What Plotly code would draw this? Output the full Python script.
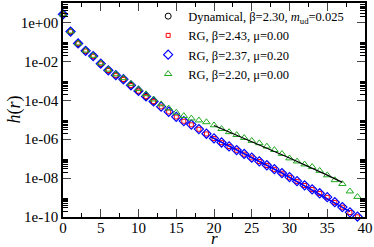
import plotly.graph_objects as go

# ---- data (h values as log10) ----
r_all = list(range(0, 40))

log_blue = [0.42, -0.47, -1.08, -1.46, -1.73, -2.12, -2.46, -2.71, -2.92, -3.23,
            -3.52, -3.80, -4.06, -4.33, -4.59, -4.85, -5.07, -5.25, -5.48, -5.72,
            -5.96, -6.17, -6.37, -6.56, -6.76, -6.95, -7.14, -7.34, -7.54, -7.74,
            -7.95, -8.16, -8.37, -8.58, -8.78, -8.98, -9.24, -9.49, -9.76, -9.98]

log_red = [0.42, -0.47, -1.09, -1.47, -1.74, -2.13, -2.47, -2.72, -2.93, -3.24,
           -3.53, -3.81, -4.07, -4.34, -4.60, -4.86, -5.08, -5.26, -5.49, -5.73,
           -5.97, -6.18, -6.38, -6.57, -6.77, -6.96, -7.15, -7.35, -7.55, -7.75,
           -7.96, -8.17, -8.38, -8.59, -8.79, -8.99, -9.25, -9.50, -9.77, -9.99]

log_green = [0.42, -0.46, -1.07, -1.44, -1.71, -2.09, -2.42, -2.66, -2.86, -3.15,
             -3.42, -3.68, -3.95, -4.20, -4.41, -4.63, -4.80, -4.93, -5.03, -5.12,
             -5.28, -5.47, -5.63, -5.78, -5.93, -6.08, -6.20, -6.37, -6.55, -6.75,
             -6.98, -7.14, -7.29, -7.42, -7.62, -7.85, -8.10, -8.30, -8.68, -8.96]

r_dyn = list(range(0, 13))
log_dyn = [0.42, -0.47, -1.08, -1.46, -1.73, -2.12, -2.46, -2.71, -2.92, -3.23,
           -3.52, -3.80, -4.06]

# fit lines
fit1_r = [20, 25, 30, 35, 37]
fit1_log = [-5.30, -6.12, -6.97, -7.85, -8.22]
fit2_r = [19.5, 29, 38]
fit2_log = [-5.86, -7.74, -9.72]

ytick_vals = [1e-10, 1e-8, 1e-6, 1e-4, 1e-2, 1e0]
ytick_text = ["1e-10", "1e-08", "1e-06", "1e-04", "1e-02", "1e+00"]
xtick_vals = [0, 5, 10, 15, 20, 25, 30, 35, 40]

def p10(a):
    return [10 ** v for v in a]

minor_y = [k * 10.0 ** e for e in range(-10, 1, 2) for k in range(2, 10)]

serif = "Liberation Serif"
green = "#1faa1f"

fig = go.Figure()
fig.add_trace(go.Scatter(x=r_dyn, y=p10(log_dyn), mode="markers", cliponaxis=False,
                         name="Dynamical, β=2.30, <i>m</i><sub>ud</sub>=0.025",
                         marker=dict(symbol="circle-open", size=6, color="black",
                                     line=dict(width=1))))
fig.add_trace(go.Scatter(x=r_all, y=p10(log_red), mode="markers", cliponaxis=False,
                         name="RG, β=2.43, μ=0.00",
                         marker=dict(symbol="square-open", size=4, color="red",
                                     line=dict(width=1))))
fig.add_trace(go.Scatter(x=r_all, y=p10(log_blue), mode="markers", cliponaxis=False,
                         name="RG, β=2.37, μ=0.20",
                         marker=dict(symbol="diamond-open", size=7, color="blue",
                                     line=dict(width=1.2))))
fig.add_trace(go.Scatter(x=r_all, y=p10(log_green), mode="markers", cliponaxis=False,
                         name="RG, β=2.20, μ=0.00",
                         marker=dict(symbol="triangle-up-open", size=6.5, color=green,
                                     line=dict(width=1))))
fig.add_trace(go.Scatter(x=fit2_r, y=p10(fit2_log), mode="lines", showlegend=False,
                         line=dict(color="blue", width=1.5)))
fig.add_trace(go.Scatter(x=fit1_r, y=p10(fit1_log), mode="lines", showlegend=False,
                         line=dict(color="black", width=1.2)))

fig.update_layout(
    width=374, height=247,
    margin=dict(l=63, r=9, t=1, b=30),
    paper_bgcolor="white", plot_bgcolor="white",
    font=dict(family=serif, size=15, color="black"),
    legend=dict(x=0.282, y=1.007, xanchor="left", yanchor="top",
                bgcolor="rgba(0,0,0,0)", font=dict(size=12.5, family=serif),
                itemwidth=30, tracegroupgap=0),
    xaxis=dict(range=[0, 40], tickvals=xtick_vals, ticks="inside", ticklen=8,
               tickwidth=1, showline=True, linecolor="black", linewidth=1.5,
               mirror="allticks", showgrid=False, zeroline=False,
               ticklabelstandoff=-4,
               tickfont=dict(size=15, family=serif),
               minor=dict(dtick=2.5, tick0=0, ticks="inside", ticklen=4,
                          tickcolor="black", showgrid=False)),
    yaxis=dict(type="log", range=[-10, 1], tickvals=ytick_vals, ticktext=ytick_text,
               ticks="inside", ticklen=8, tickwidth=1, showline=True,
               linecolor="black", linewidth=1.5, mirror="allticks",
               showgrid=False, zeroline=False,
               tickfont=dict(size=15, family=serif),
               minor=dict(tickvals=minor_y, ticks="inside", ticklen=5,
                          tickcolor="black", showgrid=False)),
    annotations=[
        dict(text="<i>r</i>", xref="paper", yref="paper", x=0.5, y=0,
             yshift=-33, xanchor="center", yanchor="bottom", showarrow=False,
             font=dict(size=17, family=serif)),
        dict(text="<i>h</i>(<i>r</i>)", xref="paper", yref="paper", x=0, y=0.5,
             xshift=-62, xanchor="left", yanchor="middle", showarrow=False,
             textangle=-90, font=dict(size=18, family=serif)),
    ],
)

fig.write_html("out.html", config={"displayModeBar": False},
               post_script="document.body.style.margin='0';")
